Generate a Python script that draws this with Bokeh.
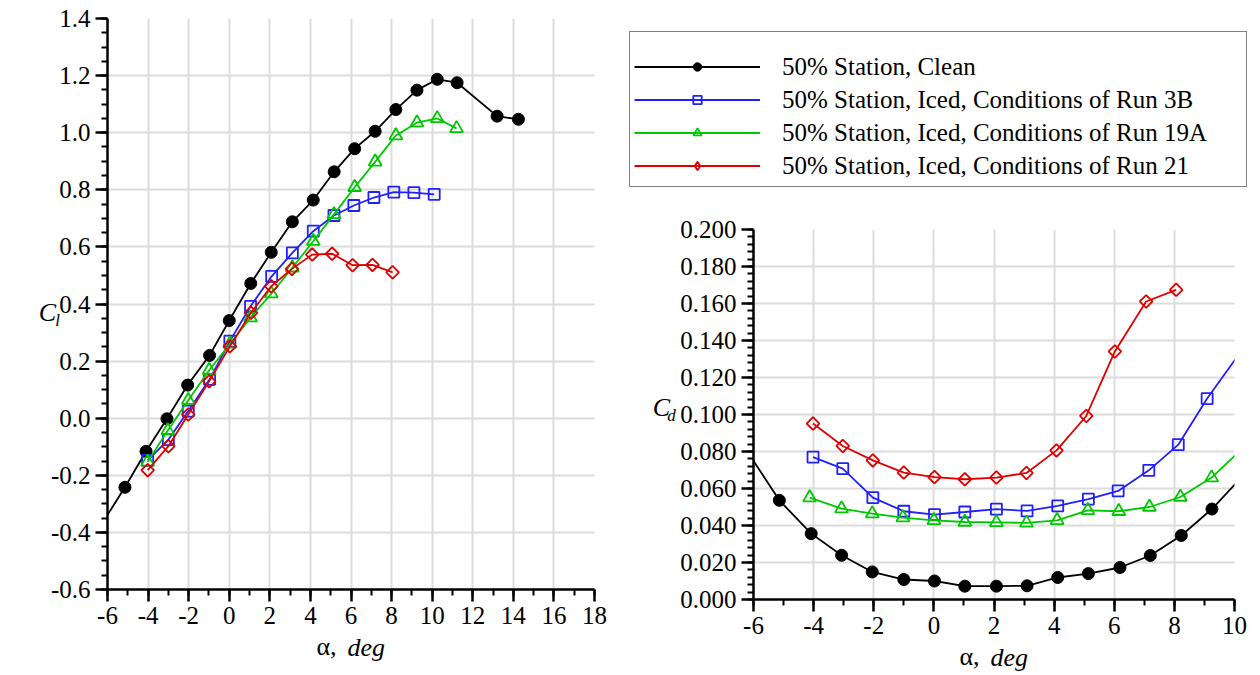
from bokeh.plotting import figure
from bokeh.models import FixedTicker, PrintfTickFormatter, Legend, LegendItem, Label, Range1d
from bokeh.layouts import row, column
from bokeh.embed import file_html
from bokeh.resources import INLINE

SERIF = "Liberation Serif"

SERIES = [
    "50% Station, Clean",
    "50% Station, Iced, Conditions of Run 3B",
    "50% Station, Iced, Conditions of Run 19A",
    "50% Station, Iced, Conditions of Run 21",
]

# ---- lift coefficient vs angle of attack ----
clean_cl_alpha = [-7.1, -5.14, -4.1, -3.07, -2.05, -0.97, 0.0, 1.06, 2.07, 3.11, 4.14,
                  5.17, 6.18, 7.19, 8.21, 9.25, 10.25, 11.23, 13.2, 14.25]
clean_cl = [-0.462, -0.242, -0.116, -0.002, 0.116, 0.22, 0.342, 0.472, 0.581, 0.688, 0.764,
            0.863, 0.944, 1.005, 1.081, 1.149, 1.187, 1.175, 1.058, 1.047]

run3b_cl_alpha = [-4.02, -3.0, -2.02, -0.97, 0.03, 1.05, 2.09, 3.11, 4.14, 5.16, 6.14,
                  7.13, 8.11, 9.1, 10.1]
run3b_cl = [-0.148, -0.075, 0.025, 0.136, 0.27, 0.392, 0.497, 0.579, 0.655, 0.71, 0.745,
            0.773, 0.792, 0.79, 0.784]

run19a_cl_alpha = [-4.02, -3.03, -2.02, -0.99, 0.03, 1.05, 2.07, 3.11, 4.14, 5.16, 6.18,
                   7.19, 8.21, 9.25, 10.25, 11.2]
run19a_cl = [-0.153, -0.043, 0.063, 0.168, 0.26, 0.352, 0.436, 0.527, 0.62, 0.714, 0.809,
             0.898, 0.99, 1.035, 1.05, 1.015]

run21_cl_alpha = [-4.02, -3.0, -2.02, -0.99, 0.03, 1.07, 2.07, 3.09, 4.09, 5.07, 6.08,
                  7.06, 8.05]
run21_cl = [-0.182, -0.098, 0.013, 0.129, 0.252, 0.369, 0.462, 0.523, 0.573, 0.576, 0.536,
            0.537, 0.511]

# ---- drag coefficient vs angle of attack ----
clean_cd_alpha = [-6.3, -5.14, -4.08, -3.07, -2.05, -1.0, 0.02, 1.03, 2.08, 3.1, 4.12,
                  5.14, 6.19, 7.2, 8.23, 9.25, 10.25]
clean_cd = [0.0824, 0.0536, 0.0356, 0.0239, 0.0149, 0.0108, 0.0100, 0.0072, 0.0072, 0.0074,
            0.0119, 0.0140, 0.0173, 0.0238, 0.0346, 0.0489, 0.0664]

run3b_cd_alpha = [-4.02, -3.03, -2.03, -1.0, 0.02, 1.03, 2.08, 3.1, 4.12, 5.14, 6.13,
                  7.15, 8.13, 9.09, 10.3]
run3b_cd = [0.0770, 0.0707, 0.0551, 0.0477, 0.0459, 0.0473, 0.0488, 0.0479, 0.0506, 0.0543,
            0.0587, 0.0698, 0.0837, 0.1086, 0.136]

run19a_cd_alpha = [-4.13, -3.07, -2.05, -1.03, 0.0, 1.03, 2.08, 3.08, 4.1, 5.12, 6.15,
                   7.17, 8.2, 9.24, 10.3]
run19a_cd = [0.0551, 0.0491, 0.0464, 0.0443, 0.0428, 0.0419, 0.0417, 0.0414, 0.0428, 0.0482,
             0.0477, 0.0500, 0.0554, 0.0659, 0.0822]

run21_cd_alpha = [-4.02, -3.03, -2.03, -1.0, 0.02, 1.03, 2.08, 3.08, 4.08, 5.07, 6.02,
                  7.06, 8.06]
run21_cd = [0.0951, 0.0830, 0.0752, 0.0686, 0.0662, 0.0650, 0.0659, 0.0684, 0.0806, 0.0992,
            0.1341, 0.1611, 0.1674]

# tick positions
cl_x_major = list(range(-6, 19, 2))
cl_x_minor = list(range(-6, 19, 1))
cl_y_major = [round(-0.6 + 0.2 * i, 1) for i in range(11)]
cl_y_minor = [round(-0.6 + 0.05 * i, 2) for i in range(41)]
cd_x_major = list(range(-6, 11, 2))
cd_x_minor = list(range(-6, 11, 1))
cd_y_major = [round(0.02 * i, 3) for i in range(11)]
cd_y_minor = [round(0.004 * i, 3) for i in range(51)]

# marker style per series: (colour, marker, size, angle, filled)
STYLES = [
    ("#000000", "circle", 12, 0.0, True),
    ("#2020ff", "square", 11, 0.0, False),
    ("#00c800", "triangle", 13, 0.0, False),
    ("#e00000", "square", 9, 0.785398, False),
]
# legend swatches ignore marker rotation, so the last series uses a true diamond there
LEGEND_STYLES = STYLES[:3] + [("#e00000", "diamond", 12, 0.0, False)]


def style_axes(p, xmaj, xmin, ymaj, ymin, yfmt):
    xt = FixedTicker(ticks=xmaj, minor_ticks=xmin)
    yt = FixedTicker(ticks=ymaj, minor_ticks=ymin)
    p.xaxis.ticker = xt
    p.yaxis.ticker = yt
    p.xgrid.ticker = xt
    p.ygrid.ticker = yt
    p.xaxis.formatter = PrintfTickFormatter(format="%d")
    p.yaxis.formatter = PrintfTickFormatter(format=yfmt)
    for ax in (p.xaxis, p.yaxis):
        ax.axis_line_color = "black"
        ax.axis_line_width = 2.5
        ax.major_tick_line_color = "black"
        ax.major_tick_line_width = 2.5
        ax.major_tick_out = 12
        ax.major_tick_in = 0
        ax.minor_tick_line_color = "black"
        ax.minor_tick_line_width = 2
        ax.minor_tick_out = 6
        ax.minor_tick_in = 0
        ax.major_label_text_font = SERIF
        ax.major_label_text_font_size = "25px"
        ax.major_label_text_color = "black"
        ax.major_label_standoff = 5
    for g in (p.xgrid, p.ygrid):
        g.grid_line_color = "#dcdcdc"
        g.grid_line_width = 2
    p.outline_line_color = None


def draw_series(p, xs, ys, style):
    color, marker, size, angle, filled = style
    ln = p.line(xs, ys, line_color=color, line_width=1.8)
    sc = p.scatter(xs, ys, marker=marker, size=size, angle=angle,
                   line_color=color, line_width=1.8 if not filled else 1,
                   fill_color=color if filled else None)
    return ln, sc


def text_label(x, y, text, size, italic=False, align="left", baseline="alphabetic"):
    return Label(x=x, y=y, x_units="screen", y_units="screen", text=text,
                 text_font=SERIF, text_font_size=size,
                 text_font_style="italic" if italic else "normal",
                 text_align=align, text_baseline=baseline, text_color="black")


def add_alpha_title(p, x_alpha, x_deg, y_alpha, y_deg):
    # "α," sits in the narrow right-hand panel, "deg" in the bottom panel
    p.add_layout(text_label(x_alpha, y_alpha, "α,", "26px", align="right"), "right")
    p.add_layout(text_label(x_deg, y_deg, "deg", "26px", italic=True), "below")


def add_coef(p, x, y, sub, x_sub, dy):
    p.add_layout(text_label(x, y, "C", "26px", italic=True, align="center",
                            baseline="middle"), "left")
    p.add_layout(text_label(x_sub, y + dy, sub, "17px", italic=True, align="center",
                            baseline="middle"), "left")


common = dict(output_backend="svg", toolbar_location=None, frame_align=False,
              background_fill_color="white", border_fill_color="white")

# ---- left panel: lift ----
p1 = figure(x_range=Range1d(-6, 18), y_range=Range1d(-0.6, 1.4),
            frame_width=487, frame_height=571,
            min_border_left=107, min_border_right=26, min_border_top=18, min_border_bottom=86,
            **common)
style_axes(p1, cl_x_major, cl_x_minor, cl_y_major, cl_y_minor, "%.1f")

cl_sets = [(clean_cl_alpha, clean_cl), (run3b_cl_alpha, run3b_cl),
           (run19a_cl_alpha, run19a_cl), (run21_cl_alpha, run21_cl)]
for (xs, ys), st in zip(cl_sets, STYLES):
    draw_series(p1, xs, ys, st)

add_alpha_title(p1, -258, 240, -57, 8)
add_coef(p1, 17, 277, "l", 32, -8)

# ---- legend strip above the drag panel ----
cd_sets = [(clean_cd_alpha, clean_cd), (run3b_cd_alpha, run3b_cd),
           (run19a_cd_alpha, run19a_cd), (run21_cd_alpha, run21_cd)]

pl = figure(x_range=Range1d(100, 101), y_range=Range1d(100, 101),
            frame_width=640, frame_height=190,
            min_border_left=0, min_border_right=0, min_border_top=0, min_border_bottom=0,
            x_axis_location=None, y_axis_location=None, **common)
pl.xgrid.visible = False
pl.ygrid.visible = False
pl.outline_line_color = None
items = []
for (xs, ys), st, name in zip(cd_sets, LEGEND_STYLES, SERIES):
    ln, sc = draw_series(pl, xs, ys, st)
    items.append(LegendItem(label=name, renderers=[ln, sc]))

legend = Legend(items=items, location=(9, 3), margin=0, padding=4, spacing=0,
                glyph_width=126, glyph_height=21, label_height=33, label_width=460,
                label_standoff=22, label_text_font=SERIF, label_text_font_size="25px",
                label_text_color="black",
                title=" ", title_text_font_size="12px", title_standoff=0,
                border_line_color="black", border_line_width=1,
                background_fill_color="white", background_fill_alpha=1.0)
pl.add_layout(legend)

# ---- right panel: drag ----
p2 = figure(x_range=Range1d(-6, 10), y_range=Range1d(0.0, 0.2),
            frame_width=481, frame_height=370,
            min_border_left=133, min_border_right=26, min_border_top=39, min_border_bottom=76,
            **common)
style_axes(p2, cd_x_major, cd_x_minor, cd_y_major, cd_y_minor, "%.3f")

for (xs, ys), st in zip(cd_sets, STYLES):
    draw_series(p2, xs, ys, st)

add_alpha_title(p2, -255, 237, -57, 8)
add_coef(p2, 1, 192, "d", 20, -8)

layout = row(p1, column(pl, p2))
open("out.html", "w").write(file_html(layout, INLINE))
